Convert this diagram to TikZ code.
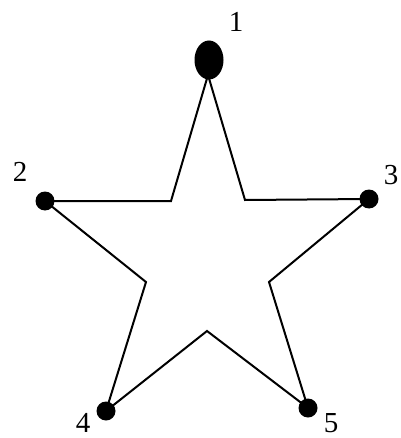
\documentclass[tikz,border=0pt]{standalone}
\usepackage{fontspec}
\setmainfont{Liberation Serif}
\usetikzlibrary{shapes.geometric}
\begin{document}
\begin{tikzpicture}[x=1pt,y=-1pt,
  dot/.style={circle,fill=black,inner sep=0pt,minimum size=19pt},
  lbl/.style={font=\fontsize{29}{32}\selectfont,inner sep=0pt},
  edge/.style={line width=2pt,line join=miter}]
\useasboundingbox (0,0) rectangle (400,438);
% star outline
\coordinate (p1) at (208,75);
\coordinate (iL) at (171,201);
\coordinate (p2) at (45,201);
\coordinate (iLL) at (146,282);
\coordinate (p4) at (106,411);
\coordinate (iB) at (207,331);
\coordinate (p5) at (308,408);
\coordinate (iRL) at (269,282);
\coordinate (p3) at (369,199);
\coordinate (iR) at (245,200);
\draw[edge] (p1) -- (iL) -- (p2) -- (iLL) -- (p4) -- (iB) -- (p5) -- (iRL) -- (p3) -- (iR) -- cycle;
% vertices
\node[ellipse,fill=black,inner sep=0pt,minimum width=29pt,minimum height=39pt] (d1) at (209,60) {};
\node[dot] (d2) at (p2) {};
\node[dot] (d3) at (p3) {};
\node[dot] (d4) at (p4) {};
\node[dot] (d5) at (p5) {};
% labels
\node[lbl] (l1) at (236,22) {1};
\node[lbl] (l2) at (20,172) {2};
\node[lbl] (l3) at (391,175) {3};
\node[lbl] (l4) at (83,423) {4};
\node[lbl] (l5) at (331,423) {5};
\end{tikzpicture}
\end{document}
